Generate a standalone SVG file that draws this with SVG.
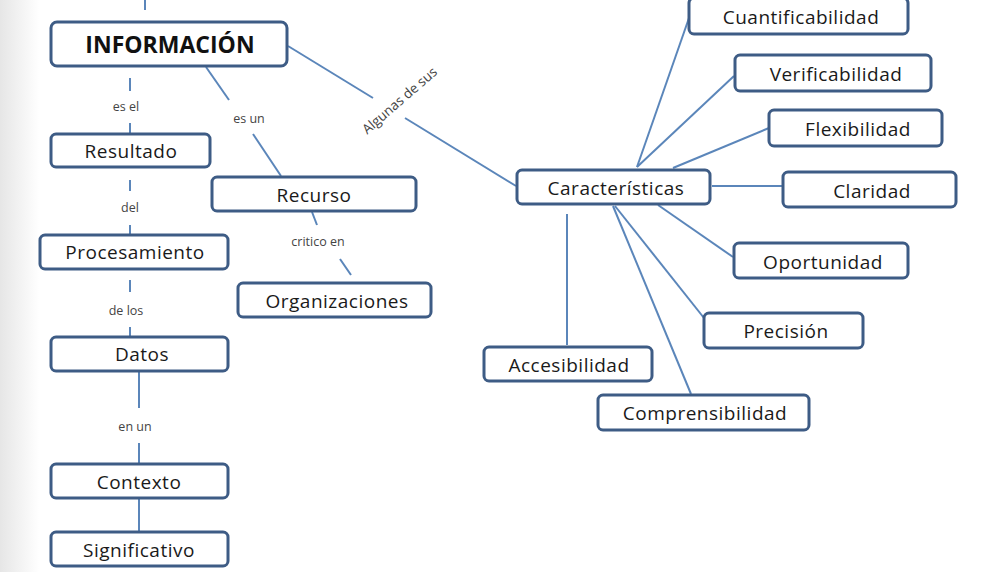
<svg xmlns="http://www.w3.org/2000/svg" width="982" height="572" viewBox="0 0 982 572">
<defs>
<linearGradient id="bg" x1="0" y1="0" x2="1" y2="0">
<stop offset="0" stop-color="#e6e6e6"/>
<stop offset="0.04" stop-color="#ffffff"/>
<stop offset="1" stop-color="#ffffff"/>
</linearGradient>
<style>
.box{fill:#ffffff;stroke:#3e5c85;stroke-width:3;}
.t{font-family:"Open Sans","Liberation Sans",Arial,sans-serif;font-size:19px;letter-spacing:0.5px;fill:#1a1a1a;text-anchor:middle;}
.tb{font-family:"Open Sans","Liberation Sans",Arial,sans-serif;font-size:23px;font-weight:bold;fill:#111111;text-anchor:middle;}
.lbl{font-family:"Open Sans","Liberation Sans",Arial,sans-serif;font-size:12.5px;fill:#444444;text-anchor:middle;}
.c{stroke:#5b86ba;stroke-width:2;fill:none;}
.d{stroke:#5b86ba;stroke-width:2;fill:none;}
</style>
</defs>
<rect x="0" y="0" width="982" height="572" fill="url(#bg)"/>

<g id="connectors">
<line class="d" x1="145" y1="0" x2="145" y2="10"/>
<line class="d" x1="130" y1="78" x2="130" y2="91"/>
<line class="d" x1="130" y1="123" x2="130" y2="133"/>
<line class="d" x1="130" y1="180" x2="130" y2="191"/>
<line class="d" x1="130" y1="225" x2="130" y2="234"/>
<line class="d" x1="130" y1="280" x2="130" y2="292"/>
<line class="d" x1="130" y1="327" x2="130" y2="336"/>
<line class="c" x1="139" y1="372" x2="139" y2="408"/>
<line class="c" x1="139" y1="443" x2="139" y2="463"/>
<line class="c" x1="139" y1="498" x2="139" y2="531"/>
<line class="c" x1="206" y1="67" x2="229" y2="100"/>
<line class="c" x1="253" y1="134" x2="281" y2="176"/>
<line class="c" x1="312" y1="212" x2="317" y2="225"/>
<line class="c" x1="340" y1="259" x2="351" y2="275"/>
<line class="c" x1="288" y1="46" x2="373" y2="98"/>
<line class="c" x1="405" y1="118" x2="516" y2="186"/>
<line class="c" x1="637" y1="167" x2="689" y2="18"/>
<line class="c" x1="637" y1="167" x2="734" y2="76"/>
<line class="c" x1="673" y1="168" x2="769" y2="128"/>
<line class="c" x1="712" y1="186" x2="783" y2="186"/>
<line class="c" x1="658" y1="205" x2="733" y2="257"/>
<line class="c" x1="615" y1="206" x2="704" y2="318"/>
<line class="c" x1="613" y1="206" x2="691" y2="394"/>
<line class="c" x1="567" y1="214" x2="567" y2="345"/>
</g>

<g id="labels">
<text class="lbl" x="126" y="111">es el</text>
<text class="lbl" x="130" y="212">del</text>
<text class="lbl" x="126" y="315">de los</text>
<text class="lbl" x="135" y="431">en un</text>
<text class="lbl" x="249" y="123">es un</text>
<text class="lbl" x="318" y="246">critico en</text>
<text class="lbl" x="400" y="105" transform="rotate(-41 400 101)" style="font-size:13.5px">Algunas de sus</text>
</g>

<g id="n-informacion"><rect class="box" x="51" y="22" width="236" height="44" rx="6"/><text class="tb" x="170" y="53">INFORMACIÓN</text></g>
<g id="n-resultado"><rect class="box" x="51" y="134" width="159" height="33" rx="5"/><text class="t" x="131" y="158">Resultado</text></g>
<g id="n-procesamiento"><rect class="box" x="40" y="235" width="188" height="34" rx="5"/><text class="t" x="135" y="259">Procesamiento</text></g>
<g id="n-datos"><rect class="box" x="51" y="337" width="177" height="34" rx="5"/><text class="t" x="142" y="361">Datos</text></g>
<g id="n-contexto"><rect class="box" x="51" y="464" width="177" height="34" rx="5"/><text class="t" x="139" y="489">Contexto</text></g>
<g id="n-significativo"><rect class="box" x="51" y="532" width="177" height="34" rx="5"/><text class="t" x="139" y="557">Significativo</text></g>
<g id="n-recurso"><rect class="box" x="212" y="177" width="204" height="34" rx="5"/><text class="t" x="314" y="202">Recurso</text></g>
<g id="n-organizaciones"><rect class="box" x="238" y="283" width="193" height="34" rx="5"/><text class="t" x="337" y="308">Organizaciones</text></g>
<g id="n-caracteristicas"><rect class="box" x="517" y="170" width="193" height="34" rx="5"/><text class="t" x="616" y="195">Características</text></g>
<g id="n-cuantificabilidad"><rect class="box" x="689" y="-2" width="219" height="36" rx="5"/><text class="t" x="801" y="24">Cuantificabilidad</text></g>
<g id="n-verificabilidad"><rect class="box" x="735" y="55" width="196" height="36" rx="5"/><text class="t" x="836" y="81">Verificabilidad</text></g>
<g id="n-flexibilidad"><rect class="box" x="769" y="110" width="173" height="36" rx="5"/><text class="t" x="858" y="136">Flexibilidad</text></g>
<g id="n-claridad"><rect class="box" x="783" y="172" width="173" height="35" rx="5"/><text class="t" x="872" y="198">Claridad</text></g>
<g id="n-oportunidad"><rect class="box" x="734" y="243" width="174" height="35" rx="5"/><text class="t" x="823" y="269">Oportunidad</text></g>
<g id="n-precision"><rect class="box" x="704" y="313" width="159" height="35" rx="5"/><text class="t" x="786" y="338">Precisión</text></g>
<g id="n-accesibilidad"><rect class="box" x="484" y="347" width="168" height="34" rx="5"/><text class="t" x="569" y="372">Accesibilidad</text></g>
<g id="n-comprensibilidad"><rect class="box" x="598" y="395" width="211" height="35" rx="5"/><text class="t" x="705" y="420">Comprensibilidad</text></g>
</svg>
